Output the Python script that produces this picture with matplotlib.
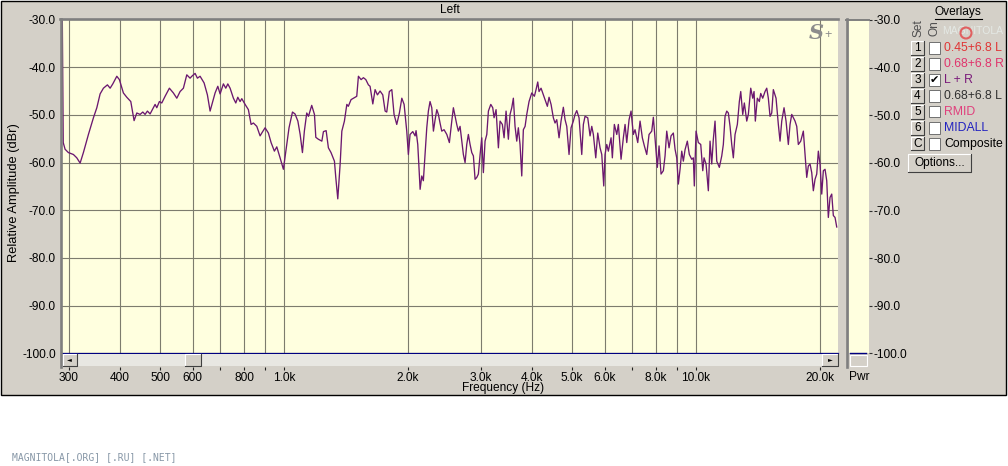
import matplotlib
matplotlib.use("Agg")
import matplotlib.pyplot as plt
from matplotlib.patches import Rectangle, Ellipse
from matplotlib.lines import Line2D
from matplotlib.ticker import FixedLocator, NullLocator, NullFormatter

plt.rcParams['font.family'] = ['Liberation Sans', 'DejaVu Sans']

# ---------------- data ----------------
freq_hz = [
    289.5, 291, 294, 299.5, 308, 313.9, 319.8, 325.7, 335.0, 344.5,
    351.1, 357.6, 364.3, 372.5, 378.2, 383.9, 392.6, 398.3, 407.3, 415.1,
    424.5, 432.4, 439.0, 447.2, 454.0, 459.8, 465.8, 472.9, 481.7, 486.3,
    490.9, 498.1, 504.8, 514.2, 526.7, 538.6, 549.0, 559.2, 569.6, 580.5,
    591.3, 597.0, 608.1, 616.0, 625.3, 639.5, 651.4, 661.3, 676.2, 680.0,
    690.4, 699.3, 712.3, 721.9, 730.1, 739.5, 753.3, 763.4, 772.0, 782.0,
    789.5, 804.2, 819.1, 831.6, 842.4, 858.5, 874.5, 882.8, 899.2, 916.0,
    929.9, 947.2, 960.0, 977.9, 996.1, 1010, 1028, 1048, 1063, 1080,
    1094, 1108, 1120, 1135, 1146, 1167, 1185, 1194, 1211, 1235,
    1246, 1265, 1281, 1300, 1325, 1335, 1350, 1368, 1381, 1401,
    1420, 1432, 1454, 1487, 1501, 1515, 1538, 1558, 1579, 1602,
    1617, 1642, 1663, 1685, 1710, 1736, 1759, 1775, 1801, 1826,
    1849, 1877, 1905, 1931, 1956, 1985, 2003, 2022, 2053, 2080,
    2091, 2111, 2130, 2139, 2159, 2178, 2199, 2220, 2240, 2261,
    2283, 2304, 2326, 2348, 2369, 2391, 2414, 2445, 2483, 2519,
    2553, 2576, 2601, 2625, 2649, 2674, 2700, 2724, 2750, 2776,
    2801, 2828, 2855, 2881, 2908, 2936, 2962, 2991, 3019, 3046,
    3075, 3105, 3133, 3175, 3210, 3234, 3270, 3313, 3344, 3387,
    3420, 3458, 3503, 3536, 3570, 3602, 3636, 3671, 3704, 3739,
    3775, 3809, 3846, 3882, 3932, 3992, 4051, 4089, 4128, 4158,
    4205, 4260, 4317, 4356, 4397, 4447, 4504, 4547, 4591, 4650,
    4702, 4763, 4809, 4855, 4917, 4973, 5037, 5085, 5134, 5200,
    5279, 5327, 5377, 5459, 5530, 5583, 5633, 5709, 5773, 5848,
    5904, 5970, 6013, 6071, 6125, 6219, 6264, 6334, 6420, 6478,
    6576, 6661, 6725, 6789, 6877, 6954, 7044, 7111, 7219, 7313,
    7407, 7491, 7592, 7690, 7807, 7877, 7983, 8055, 8132, 8223,
    8330, 8409, 8489, 8599, 8696, 8808, 8893, 8977, 9058, 9145,
    9232, 9315, 9404, 9525, 9632, 9763, 9850, 9905, 10000, 10129,
    10266, 10382, 10457, 10575, 10712, 10814, 10917, 11015, 11120, 11227,
    11391, 11545, 11648, 11760, 11872, 11979, 12093, 12208, 12318, 12436,
    12597, 12738, 12838, 12982, 13099, 13276, 13395, 13576, 13728, 13829,
    13929, 14086, 14244, 14356, 14517, 14705, 14846, 14979, 15122, 15266,
    15403, 15638, 15840, 15991, 16144, 16353, 16537, 16751, 16911, 17072,
    17226, 17390, 17556, 17714, 17953, 18216, 18390, 18565, 18732, 18911,
    19091, 19263, 19447, 19632, 19809, 19998, 20189, 20370, 20564, 20761,
    20947, 21147, 21349, 21541, 21747, 21954,
]

level_dbr = [
    -30.0, -55.8, -57.2, -57.9, -58.3, -59.0, -60.1, -57.9, -54.1, -50.6,
    -48.5, -45.6, -44.4, -43.7, -44.4, -43.5, -41.9, -42.6, -45.4, -46.3,
    -47.2, -51.2, -49.6, -49.9, -49.4, -49.9, -49.2, -49.8, -48.5, -47.8,
    -48.5, -47.2, -47.5, -46.1, -44.4, -45.4, -46.5, -45.1, -44.4, -41.6,
    -42.3, -41.9, -41.3, -42.3, -41.9, -43.3, -45.8, -49.2, -46.1, -45.4,
    -44.0, -45.6, -43.5, -44.4, -43.5, -44.4, -46.5, -47.5, -46.3, -47.2,
    -46.6, -47.8, -48.9, -52.0, -51.7, -52.4, -54.4, -53.8, -52.7, -53.8,
    -55.8, -57.6, -56.7, -59.0, -61.4, -57.6, -52.7, -49.4, -49.8, -51.3,
    -54.1, -57.9, -53.4, -49.6, -50.3, -48.0, -49.9, -54.7, -55.1, -55.5,
    -53.5, -53.3, -56.9, -57.9, -59.7, -63.1, -67.6, -60.3, -53.4, -51.3,
    -47.8, -48.2, -46.8, -46.3, -46.1, -41.9, -42.6, -42.2, -42.6, -43.7,
    -44.0, -47.7, -44.7, -45.8, -45.0, -45.8, -49.2, -49.4, -45.1, -44.7,
    -49.9, -52.0, -49.6, -46.5, -47.8, -53.4, -58.3, -54.1, -53.5, -54.4,
    -53.3, -56.2, -62.4, -65.6, -62.8, -63.8, -58.3, -52.7, -49.2, -47.2,
    -48.5, -53.4, -51.0, -48.9, -49.9, -51.7, -53.4, -53.1, -54.1, -55.8,
    -51.3, -48.5, -50.3, -52.0, -53.4, -52.4, -55.5, -58.3, -60.0, -56.2,
    -54.1, -56.2, -57.9, -58.6, -63.5, -63.1, -62.4, -58.3, -54.8, -62.1,
    -55.5, -54.1, -49.2, -47.8, -48.5, -50.6, -48.9, -56.9, -51.3, -52.0,
    -54.8, -49.2, -55.1, -49.9, -48.5, -46.5, -52.4, -55.5, -52.7, -56.2,
    -62.8, -53.1, -52.4, -49.9, -47.2, -45.4, -46.1, -44.7, -43.1, -45.1,
    -44.4, -45.8, -47.2, -48.2, -46.3, -47.8, -50.6, -51.7, -51.0, -54.8,
    -51.3, -48.4, -51.0, -52.4, -58.3, -52.7, -51.3, -49.9, -49.1, -50.6,
    -58.3, -52.0, -50.3, -50.6, -54.4, -52.4, -54.1, -59.0, -53.8, -56.9,
    -58.3, -64.9, -58.3, -56.2, -57.6, -54.8, -59.0, -52.0, -54.1, -52.0,
    -59.3, -54.8, -52.0, -55.8, -51.0, -49.2, -54.1, -53.1, -55.8, -51.3,
    -54.8, -56.5, -58.3, -54.1, -53.4, -50.5, -56.9, -61.0, -56.5, -62.4,
    -61.7, -58.6, -53.4, -56.9, -54.4, -53.8, -57.2, -59.0, -64.5, -61.4,
    -57.6, -59.7, -57.3, -55.5, -58.3, -59.3, -59.0, -64.9, -53.4, -55.8,
    -56.2, -61.7, -59.0, -60.3, -65.9, -55.5, -60.3, -55.1, -51.3, -59.7,
    -61.0, -58.6, -56.2, -50.3, -49.2, -49.6, -52.4, -56.2, -59.0, -54.1,
    -52.0, -47.2, -45.1, -49.9, -47.5, -51.3, -49.9, -44.4, -46.5, -45.1,
    -51.3, -46.5, -47.2, -45.5, -46.5, -45.1, -44.4, -46.5, -50.3, -49.6,
    -44.7, -46.5, -52.0, -55.5, -51.3, -48.5, -51.3, -56.2, -52.0, -49.9,
    -50.6, -51.3, -52.4, -56.2, -55.5, -53.4, -58.3, -63.1, -60.7, -60.3,
    -62.1, -65.9, -63.5, -62.4, -57.6, -60.3, -66.6, -61.7, -61.4, -63.8,
    -71.5, -67.3, -66.6, -71.1, -71.5, -73.5,
]

grid_freqs = [300, 400, 500, 600, 700, 800, 900, 1000,
              2000, 3000, 4000, 5000, 6000, 7000, 8000, 9000, 10000, 20000]
label_freqs = [300, 400, 500, 600, 800, 1000, 2000, 3000, 4000,
               5000, 6000, 8000, 10000, 20000]
label_texts = ['300', '400', '500', '600', '800', '1.0k', '2.0k', '3.0k',
               '4.0k', '5.0k', '6.0k', '8.0k', '10.0k', '20.0k']
unlabeled_freqs = [700, 900, 7000, 9000]
db_ticks = [-30, -40, -50, -60, -70, -80, -90, -100]

overlay_sets = ['1', '2', '3', '4', '5', '6', 'C']
overlay_names = ['0.45+6.8 L', '0.68+6.8 R', 'L + R', '0.68+6.8 L',
                 'RMID', 'MIDALL', 'Composite']
overlay_on = [False, False, True, False, False, False, False]
overlay_colors = ['#e03434', '#e0346c', '#7a1a7a', '#303030',
                  '#e0407c', '#2222c0', '#000000']

# ---------------- layout helpers ----------------
W, H = 1008, 466
FS = 8.6
fig = plt.figure(figsize=(W / 100, H / 100), dpi=100)
fig.patch.set_facecolor('white')


def box(x0, y0, x1, y1):
    return [x0 / W, 1 - y1 / H, (x1 - x0) / W, (y1 - y0) / H]


def frect(x0, y0, x1, y1, **kw):
    r = Rectangle((x0 / W, 1 - y1 / H), (x1 - x0) / W, (y1 - y0) / H,
                  transform=fig.transFigure, **kw)
    fig.patches.append(r)
    return r


def fline(xs, ys, **kw):
    ln = Line2D([x / W for x in xs], [1 - y / H for y in ys],
                transform=fig.transFigure, **kw)
    fig.lines.append(ln)
    return ln


def ftext(x, y, s, **kw):
    kw.setdefault('ha', 'center')
    kw.setdefault('va', 'center')
    kw.setdefault('fontsize', FS)
    kw.setdefault('zorder', 6)
    return fig.text(x / W, 1 - y / H, s, **kw)


def button(x0, y0, x1, y1):
    frect(x0, y0, x1, y1, facecolor='#d4d0c8', edgecolor='none', zorder=4)
    fline([x0, x0, x1], [y1, y0, y0], color='white', lw=0.8, zorder=5)
    fline([x0, x1, x1], [y1, y1, y0], color='#404040', lw=0.8, zorder=5)


# window panel
frect(0.5, 0.5, 1006, 395, facecolor='#d4d0c8', edgecolor='#000000',
      lw=1.0, zorder=-10)

GRAY = '#7f7f7f'
YELLOW = '#ffffdf'

# ---------------- main plot ----------------
ax = fig.add_axes(box(62, 19.5, 838, 353.4))
ax.set_xscale('log')
ax.set_xlim(289.0, 22110)
ax.set_ylim(-100, -30)
ax.set_facecolor(YELLOW)
ax.xaxis.set_major_locator(FixedLocator(grid_freqs))
ax.xaxis.set_minor_locator(NullLocator())
ax.tick_params(axis='x', which='both', length=0, labelbottom=False)
ax.set_yticks(db_ticks)
ax.set_yticklabels([f'{v:.1f}' for v in db_ticks])
ax.tick_params(axis='y', length=0, pad=4.5, labelsize=FS)
ax.grid(True, color='#7d7c6e', lw=0.8)
ax.set_axisbelow(True)
ax.plot(freq_hz, level_dbr, color='#6b1870', lw=0.95, zorder=3)
for side in ('left', 'top', 'right'):
    ax.spines[side].set_visible(False)
ax.spines['bottom'].set_color('#000080')
ax.spines['bottom'].set_linewidth(0.9)

# borders
fline([61, 61], [18.5, 366.5], color=GRAY, lw=1.9, zorder=5)
fline([60, 838], [19.2, 19.2], color=GRAY, lw=1.9, zorder=5)

# scrollbar
frect(62, 354, 838, 366, facecolor='#e8e7e2', edgecolor='none', zorder=2)
button(62.5, 354, 77, 366)
ftext(69.7, 360, '\u25c4', family='DejaVu Sans', fontsize=4.5)
button(185, 354, 201, 366)
button(822, 354, 837.5, 366)
ftext(830, 360, '\u25ba', family='DejaVu Sans', fontsize=4.5)

# frequency scale
axs = fig.add_axes(box(62, 366, 838, 366.5))
axs.set_xscale('log')
axs.set_xlim(289.0, 22110)
axs.set_facecolor('none')
for sp in axs.spines.values():
    sp.set_visible(False)
axs.set_yticks([])
axs.xaxis.set_major_locator(FixedLocator(label_freqs))
axs.set_xticklabels(label_texts)
axs.xaxis.set_minor_locator(FixedLocator(unlabeled_freqs))
axs.xaxis.set_minor_formatter(NullFormatter())
axs.tick_params(axis='x', which='both', direction='out', length=2.5,
                width=0.8, pad=1.2, labelsize=FS, color='#202020')

ftext(503, 388.5, 'Frequency (Hz)')
ftext(14, 193, 'Relative Amplitude (dBr)', rotation=90, fontsize=9.3)
ftext(450, 10, 'Left')

# S+ logo
ftext(816, 33, 'S', family='DejaVu Serif', fontweight='bold', style='italic',
      fontsize=15, color='#8c8c8c')
ftext(828.5, 35, '+', fontsize=9, color='#8c8c8c')

# ---------------- power bar ----------------
axp = fig.add_axes(box(849, 20, 869, 353.4))
axp.set_ylim(-100, -30)
axp.set_facecolor(YELLOW)
axp.set_xticks([])
axp.yaxis.tick_right()
axp.set_yticks(db_ticks)
axp.set_yticklabels([f'{v:.1f}' for v in db_ticks])
axp.tick_params(axis='y', direction='out', length=2.3, width=0.8, pad=1.0,
                labelsize=FS, color='#303030')
for sp in axp.spines.values():
    sp.set_visible(False)
fline([847, 847], [18.5, 366.5], color=GRAY, lw=1.9, zorder=5)
fline([846, 869], [19.5, 19.5], color=GRAY, lw=1.4, zorder=5)
fline([850, 866], [353, 353], color='#000080', lw=1.0, zorder=5)
frect(850, 355, 866.5, 366, facecolor='#d4d0c8', edgecolor='white',
      lw=0.8, zorder=4)
ftext(859, 377, 'Pwr')

# ---------------- overlays panel ----------------
ftext(942, 31, 'MAGNITOLA', ha='left', fontsize=7.5, color='#e4e9e5', zorder=1)
fig.patches.append(Ellipse((966 / W, 1 - 33 / H), 11 / W, 11 / H,
                           transform=fig.transFigure, fill=False,
                           edgecolor='#e06060', lw=1.5, zorder=2))
ftext(958, 12.5, 'Overlays')
fline([935, 982], [18.5, 18.5], color='black', lw=0.8, zorder=6)
ftext(918, 28, 'Set', rotation=90, color='#505050')
ftext(934, 28, 'On', rotation=90, color='#505050')

for i, (s, name, on, col) in enumerate(zip(overlay_sets, overlay_names,
                                           overlay_on, overlay_colors)):
    yc = 48 + 16 * i
    button(911, yc - 7, 924, yc + 6.5)
    ftext(917.5, yc, s)
    frect(928.5, yc - 6, 940, yc + 5.5, facecolor='white',
          edgecolor='#707070', lw=0.7, zorder=4)
    if on:
        ftext(934.3, yc, '\u2714', family='DejaVu Sans', fontsize=8)
    ftext(944, yc, name, ha='left', color=col, fontsize=8.8)

button(908, 154, 971, 172)
ftext(939.5, 163, 'Options...')

# site watermark
ftext(12, 457, 'MAGNITOLA[.ORG] [.RU] [.NET]', ha='left',
      family='DejaVu Sans Mono', fontsize=7, color='#8797a7')

fig.savefig('out.png', dpi=100)
